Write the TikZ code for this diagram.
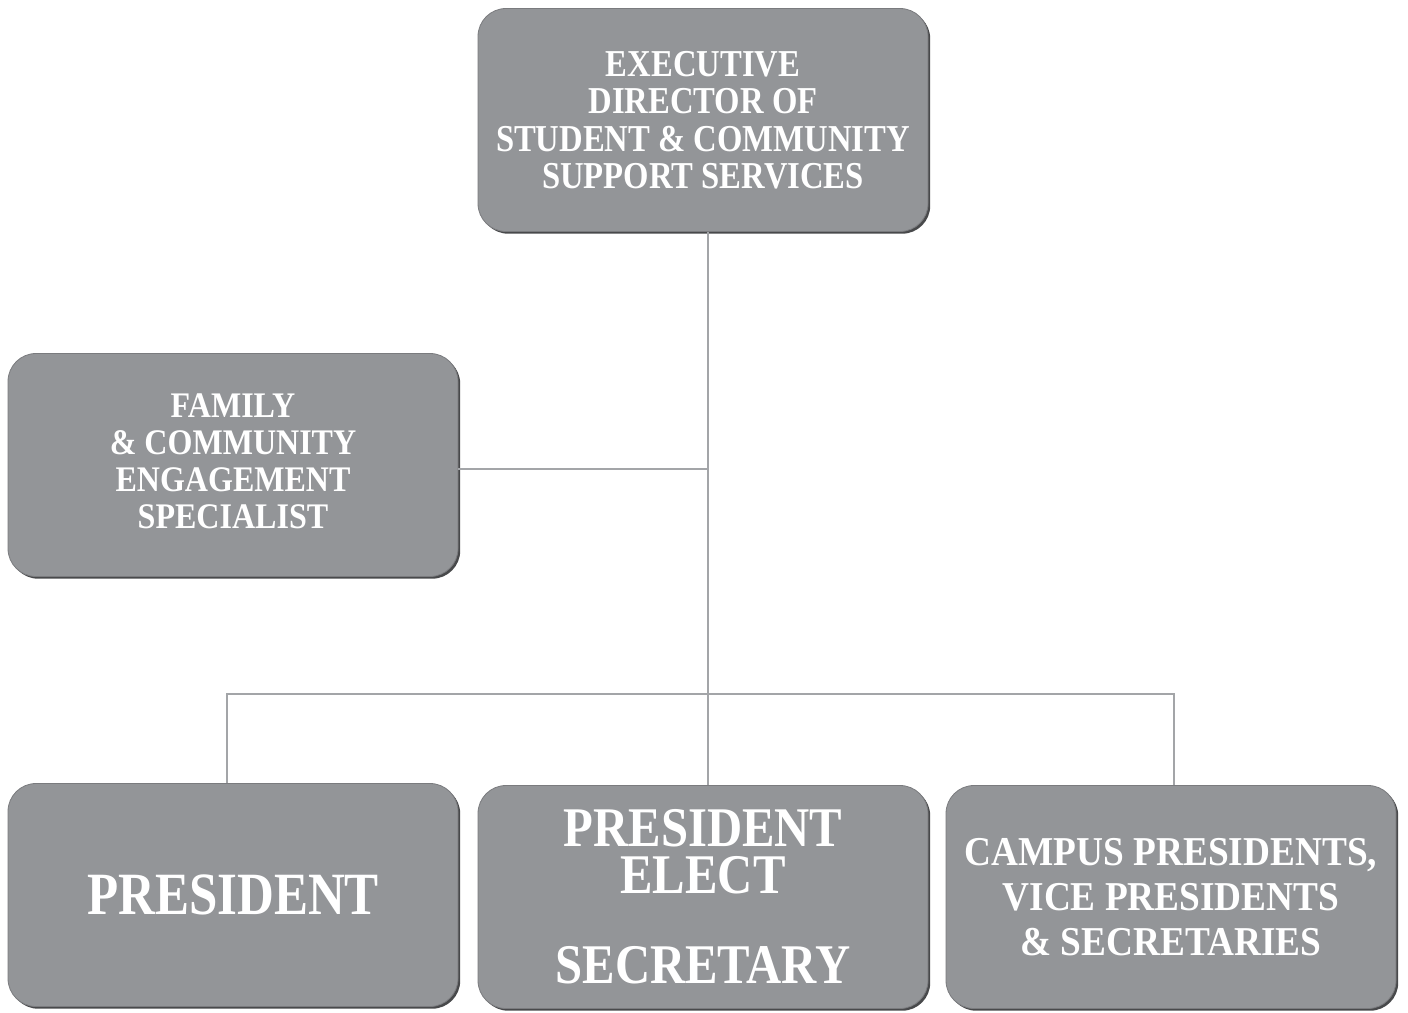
\documentclass[tikz,border=0pt]{standalone}
\usepackage{fontspec}
\setmainfont{Liberation Serif}
\newfontfamily\fTop{Liberation Serif}[FakeStretch=0.86]
\newfontfamily\fFam{Liberation Serif}[FakeStretch=0.89]
\newfontfamily\fBig{Liberation Serif}[FakeStretch=0.85]
\newfontfamily\fElect{Liberation Serif}[FakeStretch=0.87]
\newfontfamily\fCamp{Liberation Serif}[FakeStretch=0.91]
\usetikzlibrary{shadows}
\definecolor{boxgray}{HTML}{939598}
\definecolor{edgegray}{HTML}{7A7B7E}
\definecolor{shadowgray}{HTML}{48494B}
\definecolor{linegray}{HTML}{A3A5A8}
\tikzset{
  orgbox/.style={rounded corners=28pt, fill=boxgray, draw=edgegray, line width=0.8pt,
    minimum width=450pt, minimum height=223pt, inner sep=0pt, text=white, align=center,
    drop shadow={shadow xshift=2.2pt, shadow yshift=-2.2pt, fill=shadowgray, opacity=1}},
  conn/.style={draw=linegray, line width=2.8pt}
}
\begin{document}
\begin{tikzpicture}[x=1pt,y=-1pt]
\useasboundingbox (0,0) rectangle (1408,1012);
\node[orgbox, font=\fTop\bfseries\fontsize{38}{37.5}\selectfont] (top) at (703,120)
  {EXECUTIVE\\DIRECTOR OF\\STUDENT \& COMMUNITY\\SUPPORT SERVICES};
\node[orgbox, font=\fFam\bfseries\fontsize{36}{37}\selectfont, text depth=8pt] (family) at (233,465)
  {FAMILY\\\& COMMUNITY\\ENGAGEMENT\\SPECIALIST};
\node[orgbox, font=\fBig\bfseries\fontsize{60}{60}\selectfont] (pres) at (233,895)
  {PRESIDENT};
\node[orgbox, font=\fElect\bfseries\fontsize{56}{47}\selectfont] (elect) at (703,897)
  {PRESIDENT\\ELECT\\[43pt]SECRETARY};
\node[orgbox, font=\fCamp\bfseries\fontsize{41}{45}\selectfont] (campus) at (1171,897)
  {CAMPUS PRESIDENTS,\\VICE PRESIDENTS\\\& SECRETARIES};
\coordinate (j1) at (708,469);
\coordinate (cL) at (227,694);
\coordinate (cR) at (1174,694);
\draw[conn] (top.south -| j1) -- (elect.north -| j1);
\draw[conn] (family.east |- j1) -- (j1);
\draw[conn] (pres.north -| cL) -- (cL) -- (cR) -- (campus.north -| cR);
\end{tikzpicture}
\end{document}
